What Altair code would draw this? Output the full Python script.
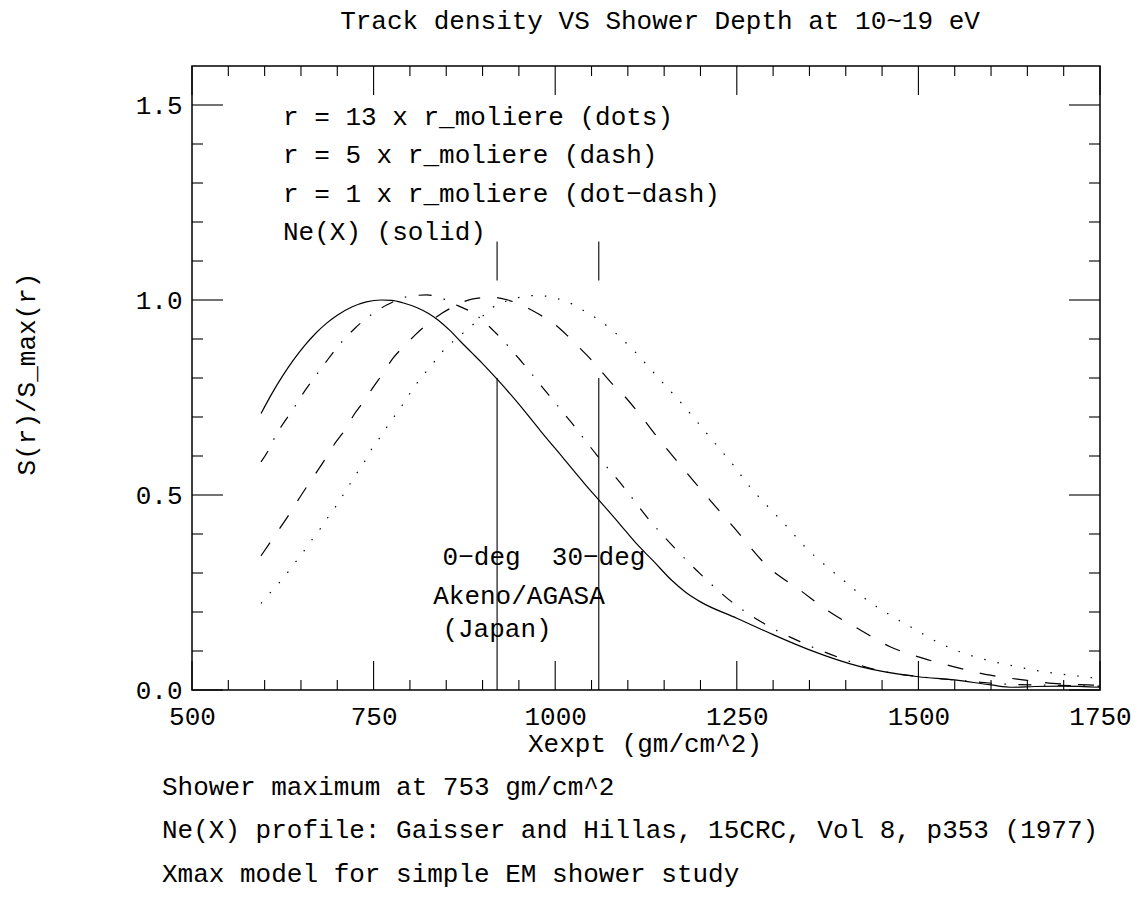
import altair as alt
import pandas as pd

# ---------------- data ----------------
ne_x = [595, 610, 625, 640, 655, 670, 685, 700, 720, 740, 760, 775, 790, 810, 825, 840, 855, 870,
        885, 900, 920, 950, 980, 1010, 1040, 1062, 1090, 1110, 1135, 1160, 1180, 1200, 1250, 1300,
        1350, 1420, 1500, 1550, 1600, 1630, 1660, 1700, 1750]
ne_y = [0.709, 0.760, 0.806, 0.847, 0.883, 0.914, 0.940, 0.961, 0.982, 0.995, 1.0, 0.999, 0.993,
        0.980, 0.966, 0.947, 0.922, 0.893, 0.865, 0.837, 0.797, 0.733, 0.664, 0.597, 0.530, 0.483,
        0.423, 0.379, 0.331, 0.282, 0.250, 0.226, 0.184, 0.142, 0.103, 0.060, 0.034, 0.026, 0.013,
        0.007, 0.009, 0.010, 0.007]

r1_x = [595, 605, 613, 622, 640, 656, 672, 688, 705, 724, 745, 768, 795, 823, 850, 864, 886, 918,
        955, 989, 1023, 1057, 1094, 1126, 1163, 1199, 1243, 1287, 1337, 1388, 1443, 1502, 1560,
        1620, 1685, 1750]
r1_y = [0.585, 0.614, 0.644, 0.673, 0.722, 0.769, 0.810, 0.850, 0.890, 0.927, 0.960, 0.987, 1.008,
        1.013, 1.0, 0.987, 0.968, 0.916, 0.839, 0.761, 0.684, 0.603, 0.521, 0.444, 0.367, 0.299,
        0.226, 0.171, 0.124, 0.085, 0.051, 0.034, 0.024, 0.015, 0.012, 0.010]

r5_x = [595, 621, 634, 646, 659, 672, 685, 697, 711, 724, 736, 750, 763, 776, 791, 807, 825, 844,
        855, 864, 887, 912, 935, 956, 979, 997, 1016, 1032, 1050, 1064, 1080, 1096, 1117, 1140,
        1176, 1213, 1245, 1293, 1337, 1374, 1420, 1461, 1507, 1548, 1599, 1644, 1685, 1732, 1750]
r5_y = [0.344, 0.415, 0.451, 0.487, 0.524, 0.560, 0.597, 0.633, 0.668, 0.709, 0.739, 0.778, 0.812,
        0.849, 0.880, 0.910, 0.940, 0.966, 0.978, 0.987, 1.003, 1.007, 1.0, 0.985, 0.962, 0.941,
        0.910, 0.880, 0.846, 0.816, 0.782, 0.752, 0.705, 0.650, 0.568, 0.487, 0.419, 0.316, 0.256,
        0.205, 0.154, 0.111, 0.081, 0.060, 0.038, 0.026, 0.017, 0.013, 0.012]

r13_x = [595, 607, 620, 632, 643, 654, 665, 676, 686, 697, 707, 717, 727, 737, 746, 757, 767, 789,
         809, 832, 844, 873, 897, 913, 931, 949, 968, 986, 1004, 1023, 1039, 1055, 1071, 1085, 1098,
         1112, 1124, 1149, 1174, 1197, 1222, 1245, 1268, 1293, 1319, 1344, 1371, 1399, 1429, 1461,
         1493, 1525, 1557, 1594, 1635, 1672, 1709, 1746]
r13_y = [0.222, 0.248, 0.275, 0.302, 0.329, 0.356, 0.385, 0.412, 0.440, 0.468, 0.497, 0.527, 0.556,
         0.584, 0.614, 0.643, 0.671, 0.729, 0.785, 0.838, 0.866, 0.915, 0.953, 0.980, 0.996, 1.006,
         1.011, 1.010, 1.003, 0.990, 0.973, 0.955, 0.934, 0.912, 0.889, 0.863, 0.838, 0.786, 0.735,
         0.684, 0.628, 0.577, 0.521, 0.470, 0.419, 0.367, 0.321, 0.278, 0.231, 0.192, 0.158, 0.124,
         0.098, 0.077, 0.060, 0.047, 0.038, 0.030]

site_x = [920, 1060]          # Akeno/AGASA depths (0-deg, 30-deg)
site_low = [0.0, 0.0]
site_low_top = [0.8, 0.8]
site_up = [1.05, 1.05]
site_up_top = [1.15, 1.15]

x_ticks = [500, 750, 1000, 1250, 1500, 1750]
x_minor = [550, 600, 650, 700, 800, 850, 900, 950, 1050, 1100, 1150, 1200, 1300, 1350, 1400,
           1450, 1550, 1600, 1650, 1700]
y_ticks = [0.0, 0.5, 1.0, 1.5]
y_minor = [0.1, 0.2, 0.3, 0.4, 0.6, 0.7, 0.8, 0.9, 1.1, 1.2, 1.3, 1.4]

title_text = "Track density VS Shower Depth at 10~19 eV"
legend_lines = ["r = 13 x r_moliere (dots)", "r = 5 x r_moliere (dash)",
                "r = 1 x r_moliere (dot\u2212dash)", "Ne(X) (solid)"]
site_lines = ["0\u2212deg \u00a030\u2212deg", "Akeno/AGASA", "(Japan)"]
notes = ["Shower maximum at 753 gm/cm^2",
         "Ne(X) profile: Gaisser and Hillas, 15CRC, Vol 8, p353 (1977)",
         "Xmax model for simple EM shower study"]
x_title = "Xexpt (gm/cm^2)"
y_title = "S(r)/S_max(r)"

# ---------------- layout ----------------
W, H = 908, 624
L, T = 192, 66
FONT = "Liberation Mono"
FS = 26

xs = alt.Scale(domain=[500, 1750], nice=False, zero=False)
ys = alt.Scale(domain=[0, 1.6], nice=False, zero=False)

x_axis = alt.Axis(values=x_ticks, format="d", labelFont=FONT, labelFontSize=FS, labelColor="black",
                  labelPadding=13, labelFlush=False, labelOverlap=False, ticks=False, domain=False,
                  grid=False)
y_axis = alt.Axis(values=y_ticks, format=".1f", labelFont=FONT, labelFontSize=FS, labelColor="black",
                  labelPadding=10, labelFlush=False, labelOverlap=False, ticks=False, domain=False,
                  grid=False)


def X(field="x"):
    return alt.X(f"{field}:Q", scale=xs, axis=x_axis, title=None)


def Y(field="y"):
    return alt.Y(f"{field}:Q", scale=ys, axis=y_axis, title=None)


def curve(xv, yv, dash):
    df = pd.DataFrame({"x": xv, "y": yv})
    kw = dict(color="black", strokeWidth=1.2, interpolate="monotone", clip=True)
    if dash:
        kw["strokeDash"] = dash
    return alt.Chart(df).mark_line(**kw).encode(x=X(), y=Y())


layers = [
    curve(ne_x, ne_y, None),
    curve(r1_x, r1_y, [13, 12.5, 1.5, 12.5]),
    curve(r5_x, r5_y, [16, 17]),
    curve(r13_x, r13_y, [1.5, 12]),
]

# site marker lines
sites_low = pd.DataFrame({"x": site_x, "y": site_low, "y2": site_low_top})
sites_up = pd.DataFrame({"x": site_x, "y": site_up, "y2": site_up_top})
for d in (sites_low, sites_up):
    layers.append(alt.Chart(d).mark_rule(color="black", strokeWidth=1.1).encode(
        x=X(), y=Y(), y2="y2:Q"))


# inward ticks on all four sides
def xtick(vals, y0, y1):
    return alt.Chart(pd.DataFrame({"x": vals})).mark_rule(color="black", strokeWidth=1.1).encode(
        x=X(), y=alt.value(y0), y2=alt.value(y1))


def ytick(vals, x0, x1):
    return alt.Chart(pd.DataFrame({"y": vals})).mark_rule(color="black", strokeWidth=1.1).encode(
        y=Y(), x=alt.value(x0), x2=alt.value(x1))


layers += [
    xtick(x_ticks, H, H - 29), xtick(x_minor, H, H - 10),
    xtick(x_ticks, 0, 29), xtick(x_minor, 0, 10),
    ytick(y_ticks, 0, 31), ytick(y_minor, 0, 11),
    ytick(y_ticks, W, W - 31), ytick(y_minor, W, W - 11),
]


def label(s, x, y, align="left", angle=0, baseline="alphabetic"):
    kw = dict(text=s, font=FONT, fontSize=FS, color="black", align=align, baseline=baseline)
    if angle:
        kw["angle"] = angle
    return alt.Chart(pd.DataFrame({"k": [0]})).mark_text(**kw).encode(
        x=alt.value(x - L), y=alt.value(y - T))


layers.append(label(title_text, 660, 29, "center"))
for i, s in enumerate(legend_lines):
    layers.append(label(s, 283, [125, 163, 202, 240][i]))
layers.append(label(site_lines[0], 544, 565, "center"))
layers.append(label(site_lines[1], 519, 604, "center"))
layers.append(label(site_lines[2], 497, 637, "center"))
layers.append(label(x_title, 645, 752, "center"))
for i, s in enumerate(notes):
    layers.append(label(s, 162, [795, 838, 882][i]))
layers.append(label(y_title, 27, 374, "center", angle=270, baseline="middle"))

chart = alt.layer(*layers).properties(
    width=W, height=H,
    autosize=alt.AutoSizeParams(type="none"),
    padding={"left": L, "top": T, "right": 1140 - L - W, "bottom": 901 - T - H},
    background="white",
).configure_view(stroke="black", strokeWidth=1.5)

chart.save("out.html", embed_options={"renderer": "svg", "actions": False})
